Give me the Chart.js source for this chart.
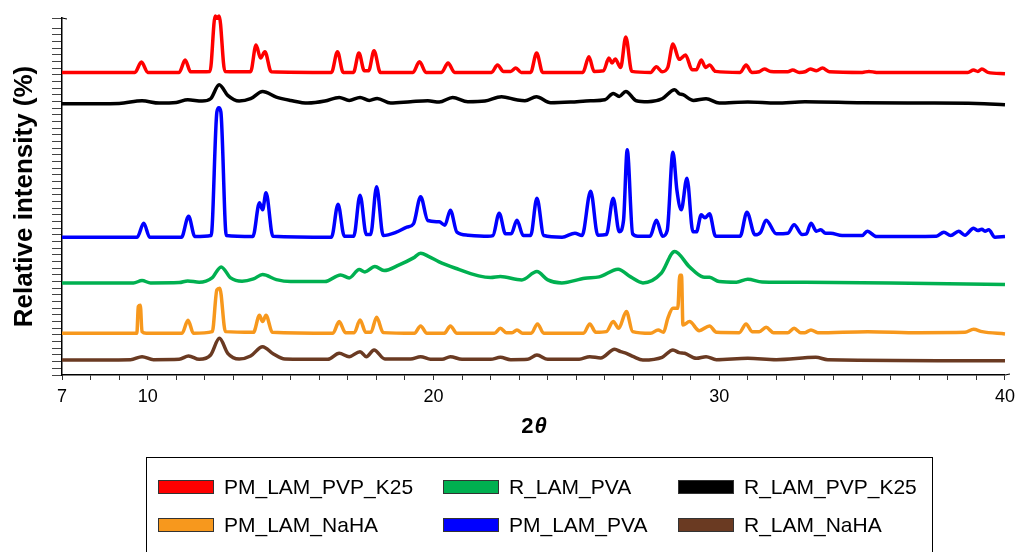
<!DOCTYPE html>
<html>
<head>
<meta charset="utf-8">
<script src="https://cdn.jsdelivr.net/npm/chart.js@4.4.1/dist/chart.umd.min.js"></script>
<style>
  html, body { margin: 0; padding: 0; background: #fff; }
  canvas { display: block; }
</style>
</head>
<body>
<canvas id="xrd" width="1021" height="552"></canvas>
<script>
// [2theta, intensity above the pattern's own baseline]
const pmLamPvpK25 = [[7,0],[9.55,0],[9.78,3.1],[10.0,0],[11.1,0],[11.31,3.7],[11.5,0.2],[12.18,0.3],[12.36,16.9],[12.43,16.2],[12.5,16.9],[12.7,0.3],[13.6,0.2],[13.79,8.2],[13.95,4.3],[14.1,6.2],[14.32,0.2],[16.43,0],[16.64,6.2],[16.84,0],[17.2,0],[17.39,5.8],[17.58,0.5],[17.73,0.5],[17.92,6.5],[18.14,0],[19.28,0],[19.51,3.2],[19.74,0],[20.28,0],[20.51,2.8],[20.74,0],[22.03,0],[22.24,2.2],[22.45,0.3],[22.7,0.3],[22.88,1.3],[23.07,0],[23.4,0],[23.61,5.8],[23.82,0],[25.23,0],[25.44,4.7],[25.62,0.3],[25.95,0.5],[26.14,4.3],[26.25,2.8],[26.36,4.0],[26.55,1.5],[26.73,10.6],[26.94,0.3],[27.6,0],[27.8,1.7],[28.0,0.2],[28.2,1.5],[28.38,8.5],[28.6,3.9],[28.82,5.2],[29.05,0.8],[29.2,0.8],[29.37,3.7],[29.52,1.5],[29.66,2.2],[29.87,0.3],[30.73,0],[30.94,2.2],[31.14,0],[31.4,0.2],[31.58,1.0],[31.8,0.3],[32.4,0.2],[32.57,0.7],[32.8,0],[33.0,0.2],[33.19,1.0],[33.4,0.5],[33.61,1.3],[33.85,0.2],[35.0,0],[35.24,0.3],[35.5,0],[38.7,0],[38.9,0.7],[39.05,0.3],[39.19,1.0],[39.4,0],[40,-0.4]];
const rLamPva = [[7,0],[9.5,0],[9.8,0.7],[10.1,0],[11.1,0.1],[11.4,0.6],[11.8,0.2],[12.25,1.5],[12.57,4.8],[12.9,1.5],[13.3,0.5],[13.7,1.2],[14.02,2.5],[14.5,1.0],[15.0,0.4],[16.2,0.4],[16.75,2.4],[17.05,1.5],[17.4,4.0],[17.6,3.3],[17.95,4.9],[18.27,3.7],[18.8,5.4],[19.3,7.5],[19.55,8.9],[19.84,7.9],[20.18,6.4],[20.77,4.4],[21.58,2.1],[22.0,1.6],[22.34,1.9],[23.09,0.9],[23.62,3.4],[24.0,0.9],[24.49,0],[25.3,1.4],[25.8,1.8],[26.46,4.1],[26.9,1.8],[27.33,0],[27.97,2.9],[28.44,9.4],[28.96,4.8],[29.43,1.8],[29.66,1.7],[30.0,0.4],[30.6,0.2],[31.0,1.1],[31.5,0.3],[33,0.2],[36,0],[40,-0.5]];
const rLamPvpK25 = [[7,0],[9.0,0.1],[9.8,0.9],[10.4,0.2],[11.0,0.4],[11.4,1.2],[11.9,0.8],[12.2,1.5],[12.5,5.7],[12.8,2.5],[13.2,0.8],[13.6,1.5],[14.02,3.7],[14.5,2.0],[15.0,1.0],[15.6,0.2],[16.2,0.8],[16.7,1.9],[17.05,1.0],[17.43,1.9],[17.75,1.0],[18.03,1.6],[18.5,0.2],[19.2,0.6],[19.8,0.9],[20.2,0.5],[20.67,1.9],[21.2,0.6],[21.8,0.8],[22.38,2.1],[22.9,1.2],[23.2,0.9],[23.6,2.1],[24.1,0.3],[24.8,0.5],[25.5,0.9],[26.0,1.2],[26.29,3.1],[26.5,2.2],[26.73,3.7],[27.1,0.9],[27.5,0.6],[28.0,1.5],[28.44,4.2],[28.6,3.0],[28.73,2.7],[29.1,1.0],[29.54,1.5],[30.0,0.2],[31.0,0.5],[32.0,0.2],[33.0,0.6],[35.0,0.3],[37.0,0.2],[39.0,0.1],[40,-0.3]];
const pmLamNaHA = [[7,0],[9.62,0],[9.67,8.0],[9.74,8.4],[9.8,0.5],[9.95,0],[11.2,0],[11.41,3.9],[11.6,0],[12.26,0.5],[12.42,13.0],[12.52,13.5],[12.72,0.5],[13.7,0.3],[13.91,5.4],[14.02,3.5],[14.14,5.4],[14.36,0.3],[16.48,0],[16.7,3.5],[16.92,0.2],[17.23,0.2],[17.43,4.0],[17.63,0.3],[17.81,0.3],[18.01,4.8],[18.24,0.2],[19.33,0],[19.55,2.2],[19.77,0],[20.38,0],[20.59,2.2],[20.82,0],[22.13,0],[22.34,1.5],[22.55,0.2],[22.75,0.2],[22.92,1.0],[23.12,0],[23.42,0],[23.64,2.8],[23.86,0],[25.25,0],[25.47,2.8],[25.68,0.3],[26.05,0.5],[26.29,3.5],[26.48,1.5],[26.75,6.5],[26.97,0.5],[27.6,0],[27.86,1.0],[28.05,0.3],[28.2,4.5],[28.38,7.5],[28.55,7.5],[28.62,17.4],[28.68,17.4],[28.73,2.5],[28.96,3.5],[29.3,0.8],[29.66,2.2],[29.9,0.3],[30.7,0.2],[30.94,2.8],[31.15,0.5],[31.4,0.5],[31.64,1.8],[31.9,0.2],[32.4,0.2],[32.62,1.5],[32.85,0.2],[33.0,0.2],[33.21,1.0],[33.45,0.2],[35.2,0.5],[37,0.2],[38.6,0.3],[38.9,1.2],[39.2,0.5],[40,-0.2]];
const pmLamPva = [[7,0],[9.63,0],[9.86,4.2],[10.07,0],[11.18,0],[11.43,6.3],[11.65,0.2],[12.22,0.5],[12.42,37.5],[12.49,38.8],[12.56,37.5],[12.75,0.5],[13.68,0.2],[13.91,10.3],[14.02,8.2],[14.14,13.3],[14.38,0.3],[16.43,0],[16.66,9.9],[16.88,0.3],[17.21,0.3],[17.43,12.6],[17.65,0.8],[17.8,0.8],[18.01,15.1],[18.24,0.5],[18.7,1.5],[19.07,3.0],[19.3,4.0],[19.55,12.1],[19.8,5.0],[20.2,4.6],[20.4,3.6],[20.59,8.1],[20.82,1.5],[21.2,0.6],[21.9,0.3],[22.08,0.5],[22.3,7.2],[22.52,1.0],[22.72,1.0],[22.92,5.1],[23.14,0.5],[23.4,0.5],[23.62,11.7],[23.86,0.5],[24.5,0],[24.95,1.2],[25.2,0.5],[25.5,13.8],[25.75,0.6],[26.05,0.8],[26.29,11.7],[26.5,1.6],[26.65,5],[26.78,26.2],[26.97,1.0],[27.15,0.3],[27.58,0.3],[27.8,5.1],[28.02,0.3],[28.18,2],[28.38,25.5],[28.52,14],[28.67,8.2],[28.87,17.7],[29.08,1.6],[29.2,1.6],[29.37,6.7],[29.5,5.8],[29.66,7.0],[29.87,0.3],[30.73,0.3],[30.97,7.5],[31.25,0.7],[31.45,1.5],[31.64,5.1],[32.0,1.0],[32.4,1.2],[32.62,3.7],[32.9,0.8],[33.05,1.0],[33.21,4.2],[33.4,1.8],[33.55,2.2],[33.72,1.2],[33.9,1.2],[34.3,0.5],[35.0,0.5],[35.18,1.8],[35.5,0.2],[37.6,0.3],[37.86,1.5],[38.1,0.5],[38.38,1.8],[38.6,0.6],[38.9,2.7],[39.05,2.0],[39.19,2.4],[39.3,1.8],[39.43,2.2],[39.65,0],[40,0.2]];
const rLamNaHA = [[7,0],[9.4,0.1],[9.8,1.0],[10.2,0.1],[11.1,0.2],[11.43,1.2],[11.8,0.2],[12.2,1.5],[12.51,6.5],[12.8,2.0],[13.2,0.3],[13.6,1.2],[14.02,4.0],[14.4,1.8],[14.8,0.3],[16.3,0.2],[16.7,2.0],[17.05,1.0],[17.43,2.5],[17.65,1.0],[17.92,3.0],[18.3,0.3],[19.2,0.3],[19.55,1.0],[19.9,0.2],[20.3,0.2],[20.59,1.0],[21.0,0.2],[22.0,0.2],[22.34,0.8],[22.7,0.1],[23.3,0.2],[23.62,1.5],[24.0,0.2],[25.1,0.2],[25.47,1.0],[25.85,0.6],[26.34,3.2],[26.55,2.5],[26.75,2.0],[27.0,1.0],[27.33,0],[28.0,0.8],[28.38,3.0],[28.6,2.2],[28.79,2.0],[29.2,0.5],[29.54,1.0],[29.9,0.1],[31.0,0.5],[32.0,0.1],[33.38,0.8],[33.8,0.1],[40,-0.2]];

const seriesNames = ["PM_LAM_PVP_K25", "R_LAM_PVA", "R_LAM_PVP_K25", "PM_LAM_NaHA", "PM_LAM_PVA", "R_LAM_NaHA"];
const seriesColors = ["#FF0000", "#00B050", "#000000", "#F7981D", "#0000FF", "#6A3A22"];
const seriesOffsets = [90.7, 27.6, 81.3, 12.5, 41.3, 4.5]; // vertical stacking of patterns
const seriesPoints = [pmLamPvpK25, rLamPva, rLamPvpK25, pmLamNaHA, pmLamPva, rLamNaHA];
const xTickLabels = [7, 10, 20, 30, 40];

const FONT = '"Liberation Sans", Arial, sans-serif';

// axis titles, arrow tips and the boxed legend
const extras = {
  id: "extras",
  afterDraw(chart) {
    const { ctx, chartArea: a } = chart;
    ctx.save();
    ctx.strokeStyle = "#000";
    ctx.lineWidth = 1.2;
    ctx.beginPath();
    ctx.moveTo(a.left, a.top);
    ctx.lineTo(a.left + 5, a.top + 1);
    ctx.moveTo(a.right, a.bottom);
    ctx.lineTo(a.right + 5, a.bottom - 1);
    ctx.stroke();

    ctx.fillStyle = "#000";
    ctx.textBaseline = "middle";

    // y title
    ctx.save();
    ctx.translate(25, (a.top + a.bottom) / 2);
    ctx.rotate(-Math.PI / 2);
    ctx.textAlign = "center";
    ctx.font = "bold 26px " + FONT;
    ctx.fillText("Relative intensity (%)", 0, 0);
    ctx.restore();

    // x title: 2θ with italic theta
    ctx.font = "bold 22px " + FONT;
    const w2 = ctx.measureText("2").width;
    ctx.font = "italic bold 22px " + FONT;
    const wt = ctx.measureText("θ").width;
    const x0 = (a.left + a.right) / 2 - (w2 + wt) / 2;
    ctx.textAlign = "left";
    ctx.font = "bold 22px " + FONT;
    ctx.fillText("2", x0, 427);
    ctx.font = "italic bold 22px " + FONT;
    ctx.fillText("θ", x0 + w2 + 1, 427);

    // legend frame + 3x2 grid
    ctx.lineWidth = 1;
    ctx.strokeStyle = "#000";
    ctx.strokeRect(146.5, 457.5, 786, 120);
    const colX = [158, 443, 678];
    const rowY = [487, 525];
    ctx.font = "21px " + FONT;
    chart.data.datasets.forEach((ds, i) => {
      const x = colX[i % 3], y = rowY[Math.floor(i / 3)];
      ctx.fillStyle = ds.borderColor;
      ctx.fillRect(x, y - 7, 56, 14);
      ctx.strokeStyle = "#333";
      ctx.strokeRect(x + 0.5, y - 6.5, 55, 13);
      ctx.fillStyle = "#000";
      ctx.fillText(ds.label, x + 66, y + 1);
    });
    ctx.restore();
  }
};

new Chart(document.getElementById("xrd"), {
  type: "line",
  data: {
    datasets: seriesNames.map((name, i) => ({
      label: name,
      data: seriesPoints[i].map(([t, v]) => ({ x: t, y: seriesOffsets[i] + v })),
      borderColor: seriesColors[i],
      backgroundColor: seriesColors[i],
      borderWidth: 3.5,
      pointRadius: 0,
      cubicInterpolationMode: "monotone",
      borderJoinStyle: "round",
      clip: false,
      fill: false
    }))
  },
  options: {
    responsive: false,
    animation: false,
    devicePixelRatio: 1,
    layout: { padding: { top: 18, right: 13, left: 0, bottom: 0 } },
    plugins: { legend: { display: false }, tooltip: { enabled: false } },
    scales: {
      x: {
        type: "linear",
        min: 7,
        max: 40,
        afterFit: (s) => { s.height = 177; },
        border: { display: true, color: "#000", width: 1.5 },
        grid: { drawOnChartArea: false, drawTicks: true, tickLength: 5, color: "#333" },
        ticks: {
          stepSize: 1,
          autoSkip: false,
          maxRotation: 0,
          padding: 6,
          color: "#000",
          font: { family: FONT, size: 18 },
          callback: (v) => (xTickLabels.includes(v) ? String(v) : "")
        }
      },
      y: {
        min: 0,
        max: 107,
        afterFit: (s) => { s.width = 62; },
        border: { display: true, color: "#000", width: 1.5 },
        grid: { drawOnChartArea: false, drawTicks: true, tickLength: 10, color: "#444" },
        ticks: { stepSize: 2, display: false }
      }
    }
  },
  plugins: [extras]
});
</script>
</body>
</html>
